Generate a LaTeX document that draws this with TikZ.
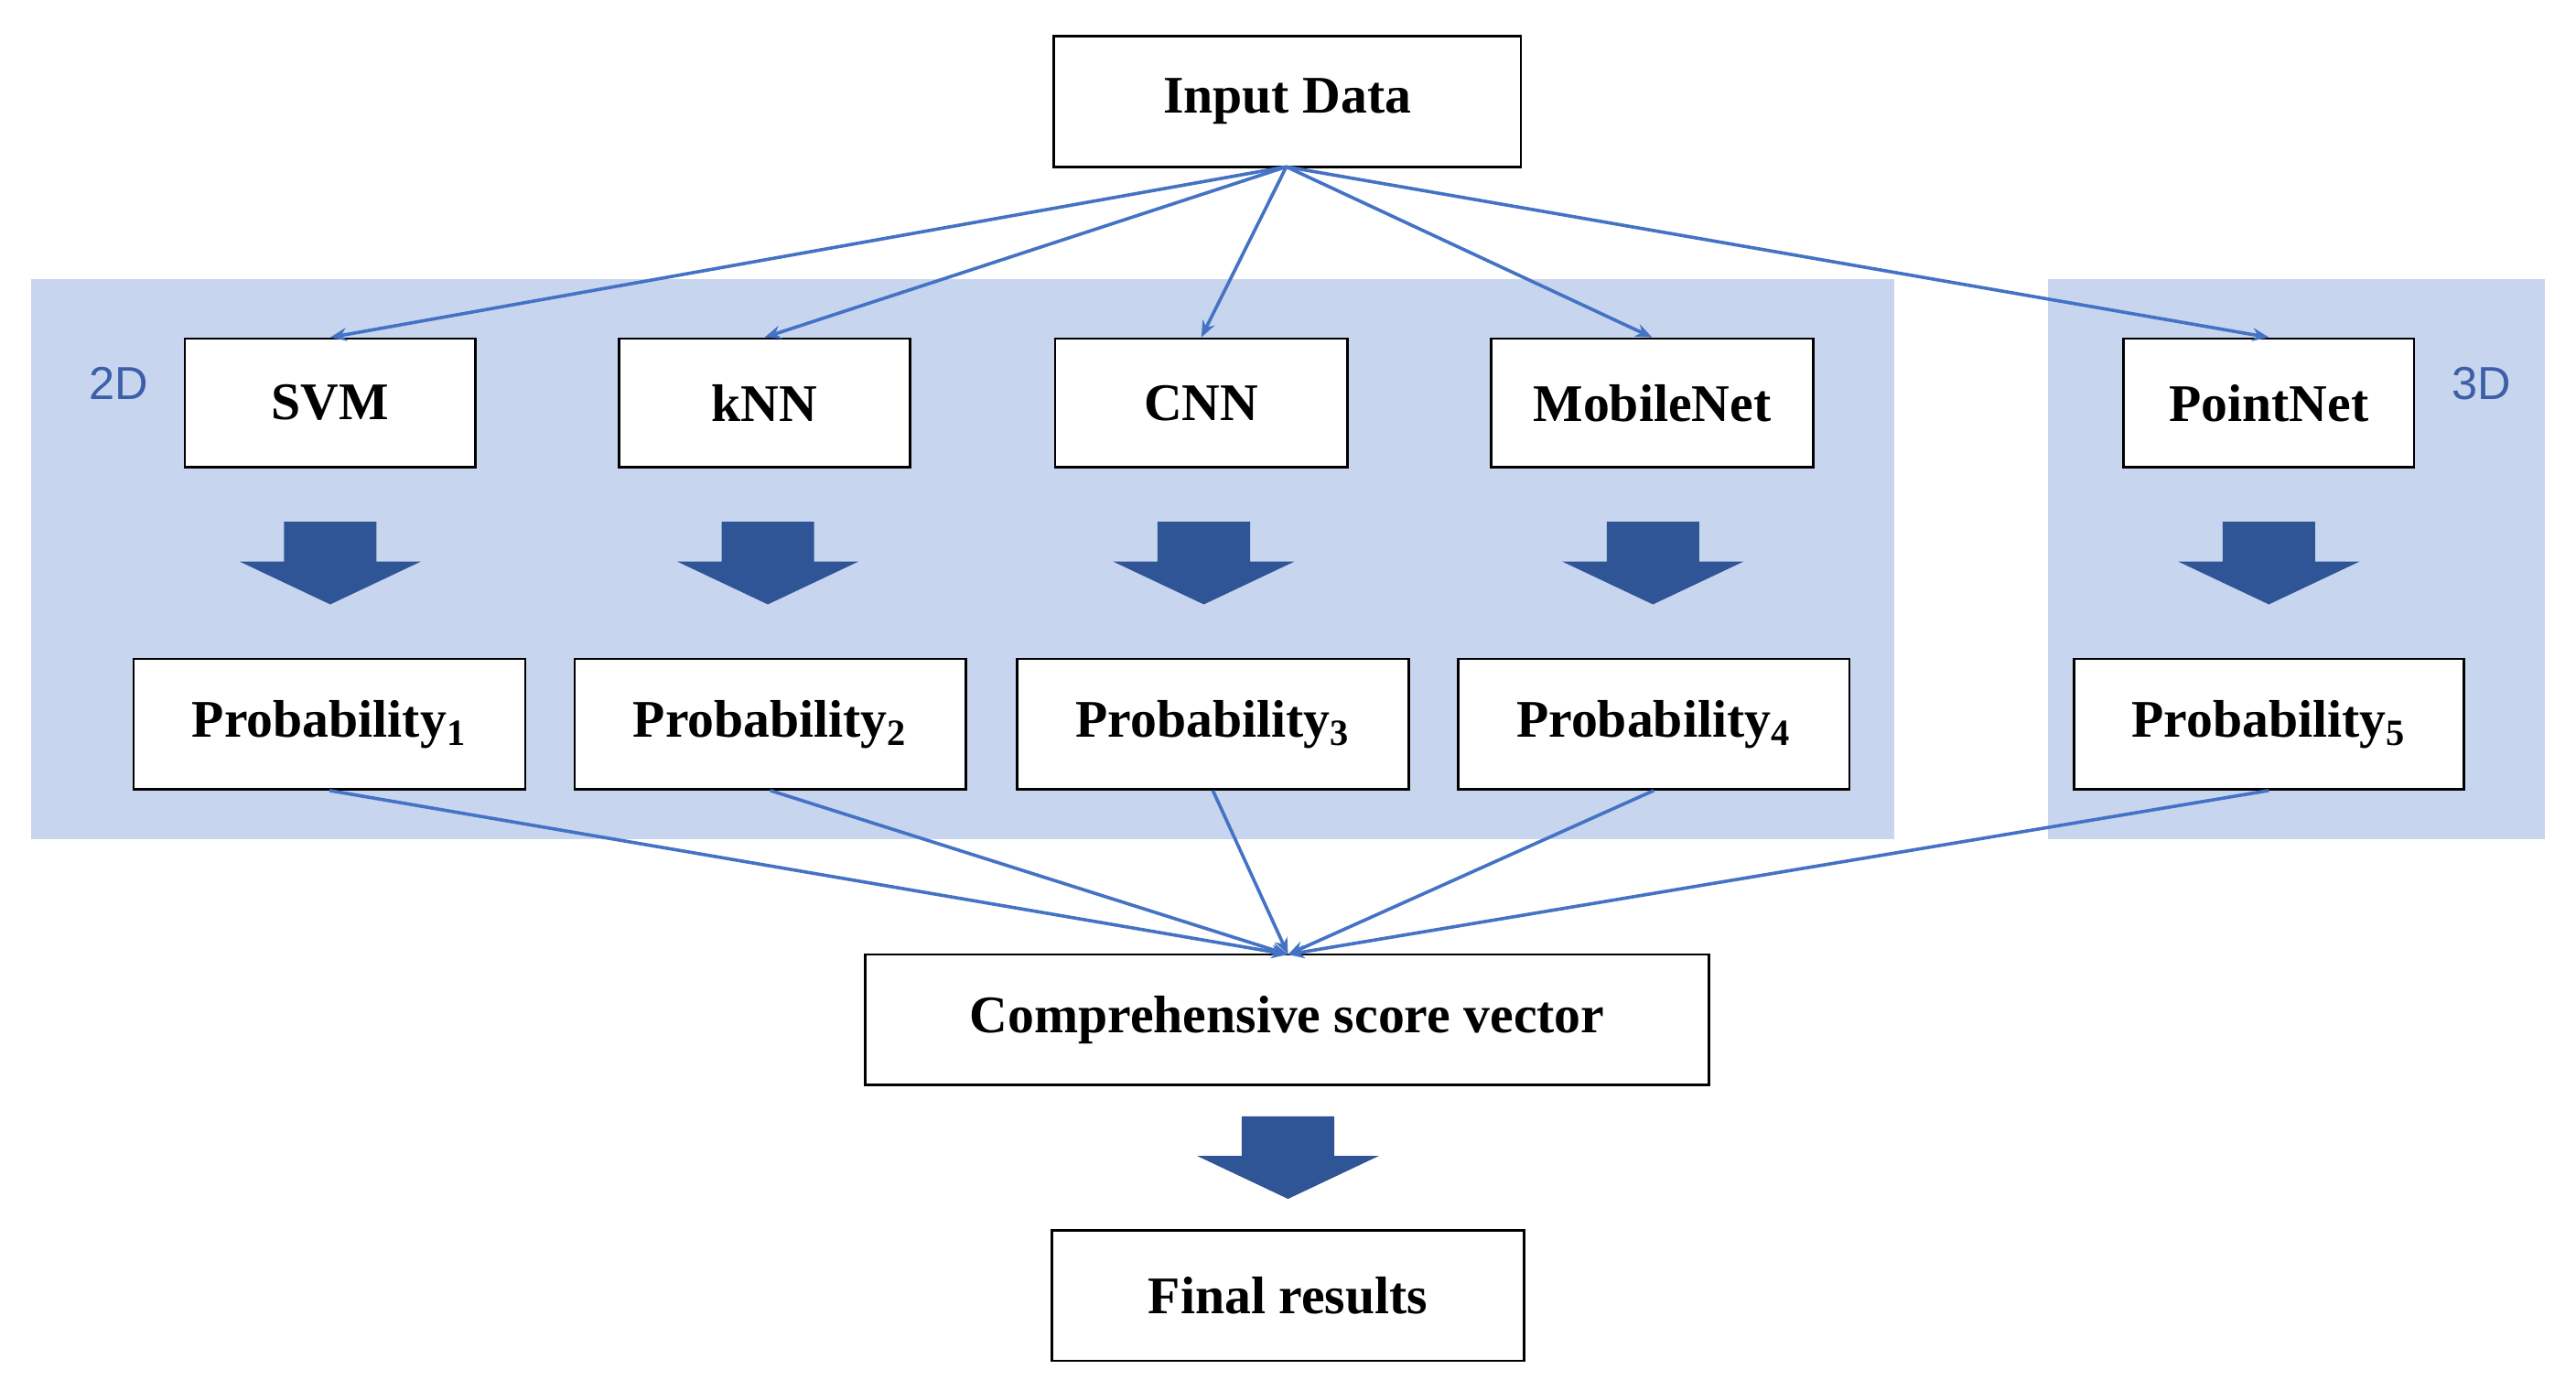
\documentclass[tikz,border=0pt]{standalone}
\usetikzlibrary{arrows.meta}
\usepackage{fontspec}
\setmainfont{Liberation Serif}
\newfontfamily\lab{Liberation Sans}
\definecolor{bg}{HTML}{C7D5EF}
\definecolor{dark}{HTML}{2F5597}
\definecolor{ln}{HTML}{4472C4}
\definecolor{lab}{HTML}{3C5FA8}
\newcommand\bdarrow[2]{\fill[dark] (#1-28,#2) -- (#1+28,#2) -- (#1+28,#2+24) -- (#1+55,#2+24) -- (#1,#2+50) -- (#1-55,#2+24) -- (#1-28,#2+24) -- cycle;}
\begin{document}
\begin{tikzpicture}[x=0.5pt,y=-0.5pt,
  box/.style={draw=black,line width=0.7pt,fill=white,inner sep=0pt,font=\fontsize{16}{19}\selectfont\bfseries},
  con/.style={ln,line width=1pt,-{Stealth[length=5pt,width=4pt]}},
  lbl/.style={lab,font=\lab\fontsize{14}{16}\selectfont}]
\useasboundingbox (0,0) rectangle (1560,842);
\fill[white] (0,0) rectangle (1560,842);
\fill[bg] (19,169) rectangle (1147,508);
\fill[bg] (1240,169) rectangle (1541,508);
\node[lbl] (l2) at (72,232) {2D};
\node[lbl] (l3) at (1503,232) {3D};
\node[box,minimum width=141.5pt,minimum height=39.5pt] (in) at (779.5,61.5) {Input Data};
\foreach \n/\t/\a/\b in {svm/SVM/112/288,knn/kNN/375/551,cnn/CNN/639/816,mob/MobileNet/903/1098,pn/PointNet/1286/1462}
  \node[box,minimum width={(\b-\a)*0.5pt},minimum height=39pt] (\n) at ({(\a+\b)/2},244) {\t};
\foreach \n/\k/\a/\b in {p1/1/81/318,p2/2/348/585,p3/3/616/853,p4/4/883/1120,p5/5/1256/1492}
  \node[box,minimum width={(\b-\a)*0.5pt},minimum height=39.5pt] (\n) at ({(\a+\b)/2},438.5) {Probability\textsubscript{\k}};
\node[box,minimum width=255.5pt,minimum height=39.5pt] (cs) at (779.5,617.5) {Comprehensive score vector};
\node[box,minimum width=143pt,minimum height=39.5pt] (fr) at (780,784.5) {Final results};
\foreach \x in {200,465,729,1001,1374} {\bdarrow{\x}{316}}
\bdarrow{780}{676}
\coordinate (src) at (779,101);
\coordinate (dst) at (780,578);
\foreach \n in {svm,knn,cnn,mob,pn} \draw[con] (src) -- (\n.north);
\foreach \n in {p1,p2,p3,p4,p5} \draw[con] (\n.south) -- (dst);
\end{tikzpicture}
\end{document}
